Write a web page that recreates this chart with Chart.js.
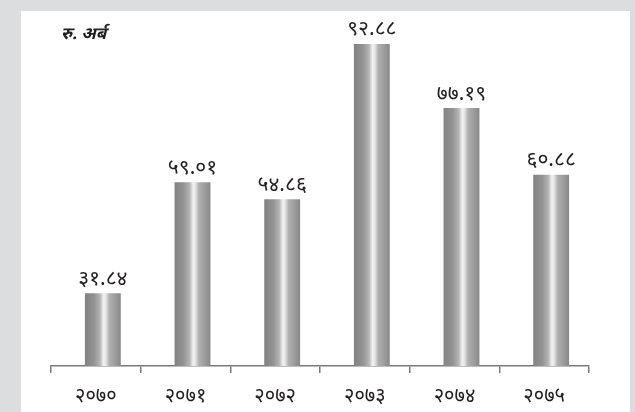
<!DOCTYPE html>
<html>
<head>
<meta charset="utf-8">
<script src="https://cdn.jsdelivr.net/npm/chart.js@4"></script>
<style>
  html, body { margin: 0; padding: 0; width: 635px; height: 412px; background: #dcdddf; overflow: hidden; }
  #panel { position: absolute; left: 21px; top: 11px; width: 609px; height: 401px; background: #ffffff; overflow: hidden; }
  canvas { display: block; }
</style>
</head>
<body>
<div id="panel"><canvas id="c" width="609" height="423"></canvas></div>
<script>
const categories = ['२०७०', '२०७१', '२०७२', '२०७३', '२०७४', '२०७५'];
const values = [31.84, 59.01, 54.86, 92.88, 77.19, 60.88];
const unitLabel = 'रु. अर्ब';

const DEVA = ['०','१','२','३','४','५','६','७','८','९'];
function toDeva(s) { return String(s).replace(/[0-9]/g, d => DEVA[+d]); }

const FONT = '"Noto Sans Devanagari", "Lohit Devanagari", "FreeSans", "Noto Sans", sans-serif';
const BAR_SHIFT = 7;

function barGradient(ctx) {
  const chart = ctx.chart;
  const xs = chart.scales && chart.scales.x;
  if (!xs || ctx.dataIndex === undefined) return '#a0a0a0';
  const cx = xs.getPixelForValue(ctx.dataIndex);
  const cw = xs.width / categories.length;
  const w = cw * 0.4;
  if (!isFinite(cx) || !isFinite(w) || w <= 0) return '#a0a0a0';
  const g = chart.ctx.createLinearGradient(cx - w / 2, 0, cx + w / 2, 0);
  g.addColorStop(0.00, '#828282');
  g.addColorStop(0.25, '#939393');
  g.addColorStop(0.42, '#b4b4b4');
  g.addColorStop(0.52, '#f2f2f2');
  g.addColorStop(0.58, '#e6e6e6');
  g.addColorStop(0.68, '#b0b0b0');
  g.addColorStop(0.85, '#9c9c9c');
  g.addColorStop(1.00, '#888888');
  return g;
}

const shiftPlugin = {
  id: 'shift',
  beforeDatasetsDraw(chart) { chart.ctx.save(); chart.ctx.translate(BAR_SHIFT, 0); },
  afterDatasetsDraw(chart) {
    const ctx = chart.ctx;
    const meta = chart.getDatasetMeta(0);
    ctx.fillStyle = '#231f20';
    ctx.font = '21px ' + FONT;
    ctx.textAlign = 'center';
    ctx.textBaseline = 'bottom';
    meta.data.forEach((bar, i) => {
      ctx.fillText(toDeva(values[i].toFixed(2)), bar.x, bar.y - 2);
    });
    ctx.restore();
    ctx.save();
    ctx.fillStyle = '#231f20';
    ctx.font = 'italic bold 17px ' + FONT;
    ctx.textAlign = 'left';
    ctx.textBaseline = 'middle';
    ctx.fillText(unitLabel, chart.chartArea.left + 10, 25);
    ctx.restore();
  }
};

new Chart(document.getElementById('c'), {
  type: 'bar',
  data: {
    labels: categories,
    datasets: [{
      data: values,
      backgroundColor: barGradient,
      borderWidth: 0,
      barPercentage: 0.4,
      categoryPercentage: 1.0
    }]
  },
  options: {
    responsive: false,
    animation: false,
    layout: { padding: { left: 30, right: 41, top: 4, bottom: 11 } },
    plugins: { legend: { display: false }, tooltip: { enabled: false } },
    scales: {
      x: {
        offset: true,
        grid: {
          display: true,
          offset: true,
          drawOnChartArea: false,
          drawTicks: true,
          tickLength: 7,
          color: '#7a7a7a',
          lineWidth: 1.5
        },
        border: { display: true, color: '#7a7a7a', width: 1.5 },
        ticks: {
          color: '#231f20',
          font: { size: 20, family: FONT },
          padding: 13,
          maxRotation: 0
        }
      },
      y: {
        display: false,
        min: 14,
        max: 100
      }
    }
  },
  plugins: [shiftPlugin]
});
</script>
</body>
</html>
